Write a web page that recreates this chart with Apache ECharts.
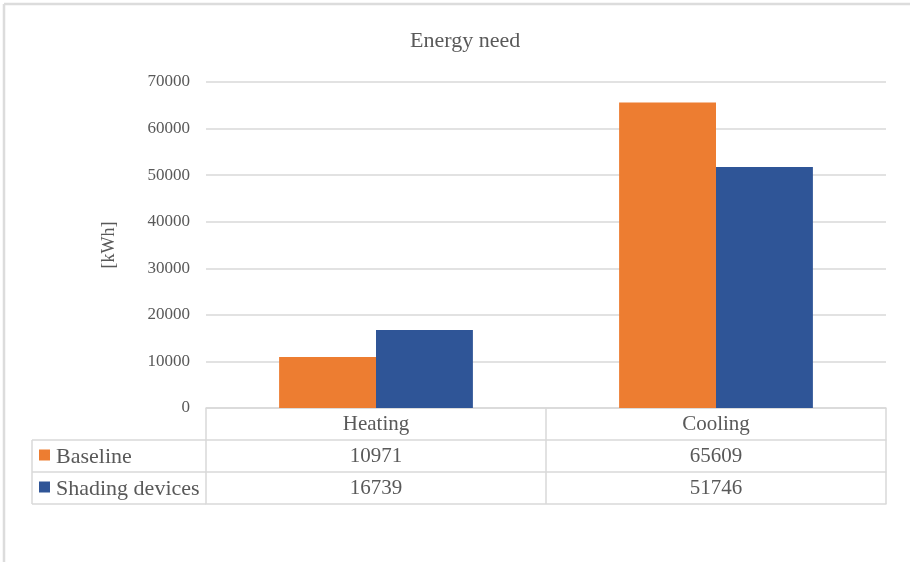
<!DOCTYPE html>
<html>
<head>
<meta charset="utf-8">
<script src="https://cdn.jsdelivr.net/npm/echarts@6/dist/echarts.min.js"></script>
<style>
  html, body { margin: 0; padding: 0; background: #fff; }
  #chart { width: 910px; height: 562px; }
</style>
</head>
<body>
<div id="chart"></div>
<script>
// Energy need by season, with and without shading devices
const categories = ['Heating', 'Cooling'];
const seriesNames = ['Baseline', 'Shading devices'];
const baseline = [10971, 65609];
const shading = [16739, 51746];
const seriesColors = ['#ED7D31', '#2F5597'];

const FONT = '"Liberation Serif", "Times New Roman", serif';
const TEXT = '#595959';
const LINE = '#d9d9d9';
const ROW = 32;          // height of one table row
const TABLE_FONT = 21;
const GRID_LEFT = 206, GRID_RIGHT = 24, GRID_TOP = 82, GRID_BOTTOM = 154;
const TABLE_LEFT = 32;

const chart = echarts.init(document.getElementById('chart'), null, { renderer: 'canvas' });

// Category axis plus one extra axis per data-table row; ticks form the cell walls.
function tableAxis(offset, labels, showLabel) {
  return {
    type: 'category',
    position: 'bottom',
    offset: offset,
    data: labels,
    axisLine: { show: true, lineStyle: { color: LINE, width: 1.5 } },
    axisTick: { show: true, length: ROW, lineStyle: { color: LINE, width: 1.5 } },
    axisLabel: { show: showLabel, margin: 6, fontFamily: FONT, fontSize: TABLE_FONT, color: TEXT, lineHeight: 21 },
    splitLine: { show: false }
  };
}

const rows = [baseline, shading];
const tableRowTop = (i) => 562 - GRID_BOTTOM + ROW * (i + 1);

const graphics = [
  // outer chart frame (top and left edges)
  { type: 'line', shape: { x1: 4, y1: 4, x2: 910, y2: 4 }, style: { stroke: '#dcdcdc', lineWidth: 2.5 } },
  { type: 'line', shape: { x1: 4, y1: 4, x2: 4, y2: 562 }, style: { stroke: '#dcdcdc', lineWidth: 2.5 } },
  // left column of the data table
  { type: 'line', shape: { x1: TABLE_LEFT, y1: tableRowTop(0), x2: TABLE_LEFT, y2: tableRowTop(2) }, style: { stroke: LINE, lineWidth: 1.5 } }
];
for (let i = 0; i <= rows.length; i++) {
  graphics.push({ type: 'line', shape: { x1: TABLE_LEFT, y1: tableRowTop(i), x2: GRID_LEFT, y2: tableRowTop(i) }, style: { stroke: LINE, lineWidth: 1.5 } });
}
seriesNames.forEach((name, i) => {
  const cy = tableRowTop(i) + ROW / 2;
  graphics.push({ type: 'rect', shape: { x: 39, y: cy - 6.5, width: 11, height: 11 }, style: { fill: seriesColors[i] } });
  graphics.push({ type: 'text', x: 56, y: cy + 1, style: { text: name, font: '22px ' + FONT, fill: TEXT, verticalAlign: 'middle' } });
});

chart.setOption({
  animation: false,
  backgroundColor: '#ffffff',
  title: {
    text: 'Energy need',
    left: 405,
    top: 25,
    textStyle: { fontFamily: FONT, fontSize: 22, fontWeight: 'normal', color: TEXT }
  },
  grid: { left: GRID_LEFT, right: GRID_RIGHT, top: GRID_TOP, bottom: GRID_BOTTOM, containLabel: false },
  xAxis: [
    tableAxis(0, categories, true),
    tableAxis(ROW, baseline.map(String), true),
    tableAxis(ROW * 2, shading.map(String), true),
    Object.assign(tableAxis(ROW * 3, categories, false), { axisTick: { show: false } })
  ],
  yAxis: {
    type: 'value',
    min: 0,
    max: 70000,
    interval: 10000,
    name: '[kWh]',
    nameLocation: 'middle',
    nameGap: 88,
    nameRotate: 90,
    nameTextStyle: { fontFamily: FONT, fontSize: 18, color: TEXT },
    axisLine: { show: false },
    axisTick: { show: false },
    axisLabel: { margin: 16, fontFamily: FONT, fontSize: 17, color: TEXT, formatter: (v) => String(v) },
    splitLine: { lineStyle: { color: LINE, width: 1.5 } }
  },
  series: [
    { name: seriesNames[0], type: 'bar', xAxisIndex: 0, data: baseline, barGap: '0%', barCategoryGap: '43%', itemStyle: { color: seriesColors[0] } },
    { name: seriesNames[1], type: 'bar', xAxisIndex: 0, data: shading, barGap: '0%', barCategoryGap: '43%', itemStyle: { color: seriesColors[1] } }
  ],
  graphic: graphics
});
</script>
</body>
</html>
